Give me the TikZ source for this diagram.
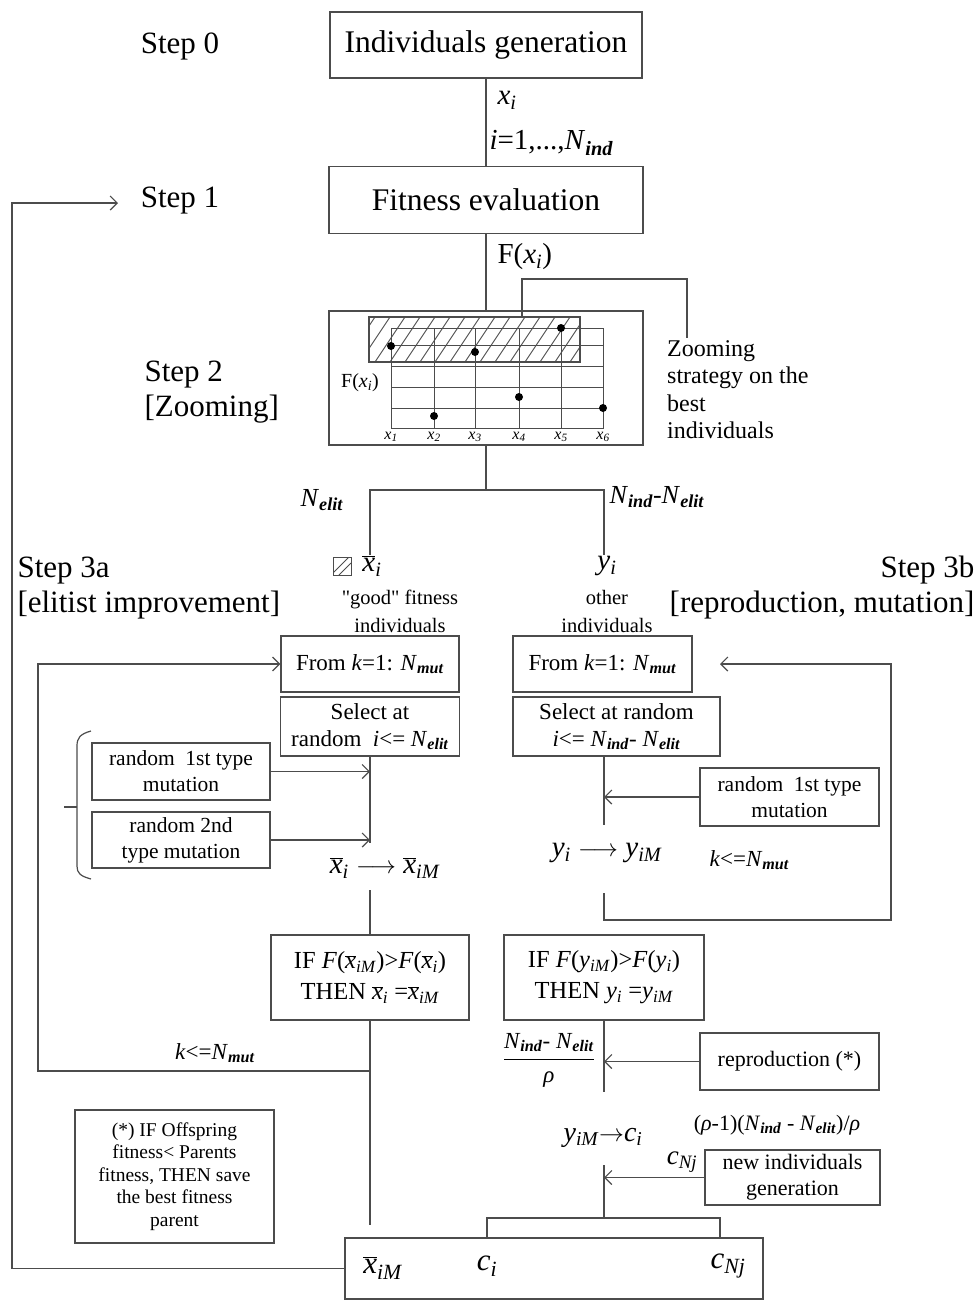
\documentclass[tikz,border=0pt]{standalone}
\usepackage{fontspec}
\setmainfont{Liberation Serif}
\newfontfamily\quotefont{Liberation Serif}
\usetikzlibrary{arrows.meta,positioning}

\newcommand{\psub}[1]{\textsubscript{\textit{#1}}}
\newcommand{\isub}[1]{\textsubscript{\textbf{\textit{#1}}}}
\newcommand{\xbar}{$\overline{\mbox{\textit{x}}}$}
\newcommand{\fsz}[2]{\fontsize{#1}{#2}\selectfont}
\newcommand{\dq}{{\quotefont"}}

\tikzset{
  wire/.style={draw=black!70, line width=1.2pt},
  box/.style={draw=black!70, line width=1.2pt, inner sep=2pt, align=center},
  arr/.style={wire, -{Straight Barb[length=7pt,width=14pt,line width=1.2pt]}},
  steptext/.style={font=\fsz{31}{35}, align=left},
  boxtext/.style={font=\fsz{23}{27}},
}

\begin{document}
\begin{tikzpicture}[x=1pt,y=-1pt]
\useasboundingbox (0,0) rectangle (976,1301);

% Step labels
\node[steptext] (step0) at (180,46) {Step 0};
\node[steptext] (step1) at (180,201) {Step 1};
\node[steptext, anchor=west] (step2) at (141,392) {Step 2\\{}[Zooming]};
\node[steptext, anchor=west] (step3a) at (14,588) {Step 3a\\{}[elitist improvement]};
\node[steptext, anchor=east, align=right] (step3b) at (978,588) {Step 3b\\{}[reproduction, mutation]};

% Steps 0 and 1
\node[box, minimum width=312pt, minimum height=66pt, font=\fsz{31.5}{34}] (gen) at (486,45) {Individuals generation};
\node[box, minimum width=314pt, minimum height=67pt, font=\fsz{31.5}{34}] (fit) at (486,200) {Fitness evaluation};
\draw[wire] (gen.south) -- (fit.north);
\node[anchor=west, font=\fsz{29}{32}] (xi) at (494,100) {\textit{x}\psub{i}};
\node[anchor=west, font=\fsz{29}{32}] (range) at (486,143) {\textit{i}=1,...,\textit{N}\isub{ind}};
\node[anchor=west, font=\fsz{29}{32}] (fx) at (494,257) {F(\textit{x}\psub{i})};

% Step 2: zooming box
\node[box, minimum width=314pt, minimum height=134pt] (zoombox) at (486,378) {};
\draw[wire] (fit.south) -- (zoombox.north);
\begin{scope}
  \clip (369,317) rectangle (580,362);
  \foreach \k in {330,345,...,590} \draw[black!70, line width=0.9pt] (\k,362) -- ++(30,-45);
\end{scope}
\draw[wire] (369,317) rectangle (580,362);
\draw[black!70, line width=1pt] (391,328) rectangle (603,428);
\foreach \yy in {345,366,387,408} \draw[black!70, line width=1pt] (391,\yy) -- (603,\yy);
\foreach \xx/\yy [count=\n] in {391/346,434/416,475/352,519/397,561/328,603/408} {
  \draw[black!70, line width=1pt] (\xx,328) -- (\xx,428);
  \fill (\xx,\yy) circle (4pt);
  \node[font=\fsz{16}{18}, inner sep=0pt] (lab\n) at (\xx,437) {\textit{x}\psub{\n}};
}
\node[font=\fsz{20}{24}] (fchart) at (360,383) {F(\textit{x}\psub{i})};
\coordinate (hatchtop) at (522,317);
\coordinate (zend) at (687,338);
\node[anchor=north west, align=left, font=\fsz{24}{27.5}, inner sep=0pt] (ztext) at (667,340) {Zooming\\strategy on the\\best\\individuals};
\draw[wire] (hatchtop) -- (522,279) -| (zend);

% split into elite and others
\coordinate (split) at (486,490);
\draw[wire] (zoombox.south) -- (split);
\draw[wire] (370,555) -- (370,490) -- (604,490) -- (604,555);
\node[font=\fsz{26}{30}] (nelit) at (322,500) {\textit{N}\isub{elit}};
\node[anchor=west, font=\fsz{26}{30}] (nrest) at (606,497) {\textit{N}\isub{ind}-\textit{N}\isub{elit}};

\begin{scope}
  \clip (333,557) rectangle (351,575);
  \draw[black!70, line width=0.9pt] (333,573) -- (349,557) (339,575) -- (351,563);
\end{scope}
\draw[black!70, line width=1pt] (333,557) rectangle (351,575);
\node[font=\fsz{29}{32}] (xsel) at (372,566) {\xbar\psub{i}};
\node[font=\fsz{29}{32}] (ysel) at (607,566) {\textit{y}\psub{i}};
\node[font=\fsz{20.5}{28}, align=center] (good) at (400,611) {\dq good\dq{} fitness\\individuals};
\node[font=\fsz{20.5}{28}, align=center] (other) at (607,611) {other\\individuals};

% Step 3a: elitist improvement
\node[box, boxtext, minimum width=178pt, minimum height=56pt] (fromL) at (370,664) {From \textit{k}=1: \textit{N}\isub{mut}};
\node[box, boxtext, minimum width=179pt, minimum height=59pt] (selL) at (370,726.5) {Select at\\random\ \ \textit{i}<= \textit{N}\isub{elit}};
\node[box, minimum width=178pt, minimum height=57pt, font=\fsz{21.5}{26}] (mut1L) at (181,771.5) {random\ \ 1st type\\mutation};
\node[box, minimum width=178pt, minimum height=56pt, font=\fsz{21.5}{26}] (mut2L) at (181,840) {random 2nd\\type mutation};
\coordinate (mutendL) at (370,843);
\draw[wire] (selL.south) -- (mutendL);
\draw[arr] (mut1L.east) -- (mut1L.east -| selL.south);
\draw[arr] (mut2L.east) -- (mut2L.east -| selL.south);
\draw[black!70, line width=1.2pt] (91,731) .. controls (80,734) and (77,738) .. (77,746) -- (77,866) .. controls (77,873) and (80,876) .. (91,879);
\draw[black!70, line width=1.2pt] (64,807) -- (77,807);
\node[font=\fsz{29}{32}] (xmap) at (385,868) {\xbar\psub{i} $\longrightarrow$ \xbar\psub{iM}};
\node[box, minimum width=198pt, minimum height=85pt, font=\fsz{24.5}{31}] (ifL) at (370,977.5) {IF \textit{F}(\xbar\psub{iM})>\textit{F}(\xbar\psub{i})\\THEN \xbar\psub{i} =\xbar\psub{iM}};
\draw[wire] (370,890) -- (ifL.north);
\coordinate (xend) at (370,1225);
\draw[wire] (ifL.south) -- (xend);
\coordinate (kL) at (370,1071);
\coordinate (loopL) at (38,1071);
\draw[arr] (kL) -- (loopL) |- (fromL.west);
\node[font=\fsz{23}{26}] (kmutL) at (215,1053) {\textit{k}<=\textit{N}\isub{mut}};
\node[box, minimum width=199pt, minimum height=133pt, font=\fsz{19.5}{22.5}] (note) at (174.5,1176.5) {(*) IF Offspring\\fitness< Parents\\fitness, THEN save\\the best fitness\\parent};

% Step 3b: reproduction, mutation
\node[box, boxtext, minimum width=179pt, minimum height=56pt] (fromR) at (602.5,664) {From \textit{k}=1: \textit{N}\isub{mut}};
\node[box, boxtext, minimum width=207pt, minimum height=59pt] (selR) at (616.5,726.5) {Select at random\\\textit{i}<= \textit{N}\isub{ind}- \textit{N}\isub{elit}};
\node[box, minimum width=179pt, minimum height=58pt, font=\fsz{21.5}{26}] (mut1R) at (789.5,797) {random\ \ 1st type\\mutation};
\coordinate (mutendR) at (604,825);
\draw[wire] (selR.south -| mutendR) -- (mutendR);
\draw[arr] (mut1R.west) -- (mut1R.west -| mutendR);
\node[font=\fsz{29}{32}] (ymap) at (607,853) {\textit{y}\psub{i} $\longrightarrow$ \textit{y}\psub{iM}};
\node[anchor=west, font=\fsz{23}{26}] (kmutR) at (706,860) {\textit{k}<=\textit{N}\isub{mut}};
\coordinate (yloop) at (604,893);
\coordinate (loopR) at (891,920);
\draw[arr] (yloop) -- (604,920) -- (loopR) |- (720,664);
\node[box, minimum width=200pt, minimum height=85pt, font=\fsz{24.5}{31}] (ifR) at (604,977.5) {IF \textit{F}(\textit{y}\psub{iM})>\textit{F}(\textit{y}\psub{i})\\THEN \textit{y}\psub{i} =\textit{y}\psub{iM}};
\coordinate (reproend) at (604,1092);
\draw[wire] (ifR.south) -- (reproend);
\node[box, minimum width=179pt, minimum height=57pt, font=\fsz{22}{26}] (repro) at (789.5,1061.5) {reproduction (*)};
\draw[arr] (repro.west) -- (repro.west -| reproend);
\node[font=\fsz{23}{26}] (frac) at (549,1060) {${\displaystyle\frac{\mbox{\textit{N}\isub{ind}- \textit{N}\isub{elit}}}{\mbox{\textit{ρ}}}}$};
\node[font=\fsz{28}{32}] (cmap) at (603,1138) {\textit{y}\psub{iM}$\rightarrow$\textit{c}\psub{i}};
\node[font=\fsz{22}{26}] (ratio) at (777,1125) {(\textit{ρ}-1)(\textit{N}\isub{ind} - \textit{N}\isub{elit})/\textit{ρ}};
\node[box, minimum width=175pt, minimum height=55pt, font=\fsz{22}{26}] (newgen) at (792.5,1177.5) {new individuals\\generation};
\node[font=\fsz{27}{30}] (cnj) at (682,1162) {\textit{c}\psub{Nj}};
\coordinate (cstart) at (604,1165);
\coordinate (cjoin) at (604,1218);
\draw[wire] (cstart) -- (cjoin);
\draw[arr] (newgen.west) -- (newgen.west -| cjoin);

% Final population
\node[box, minimum width=418pt, minimum height=61pt] (final) at (554,1268.5) {};
\draw[wire] (487,1238) -- (487,1218) -- (720,1218) -- (720,1238);
\node[font=\fsz{31}{34}] (fx1) at (383,1268) {\xbar\psub{iM}};
\node[font=\fsz{31}{34}] (fc1) at (487,1266) {\textit{c}\psub{i}};
\node[font=\fsz{31}{34}] (fc2) at (728,1266) {\textit{c}\psub{Nj}};

% return to fitness evaluation
\draw[arr] (final.west) -- (12,1268.5) |- (118,203);
\end{tikzpicture}
\end{document}
